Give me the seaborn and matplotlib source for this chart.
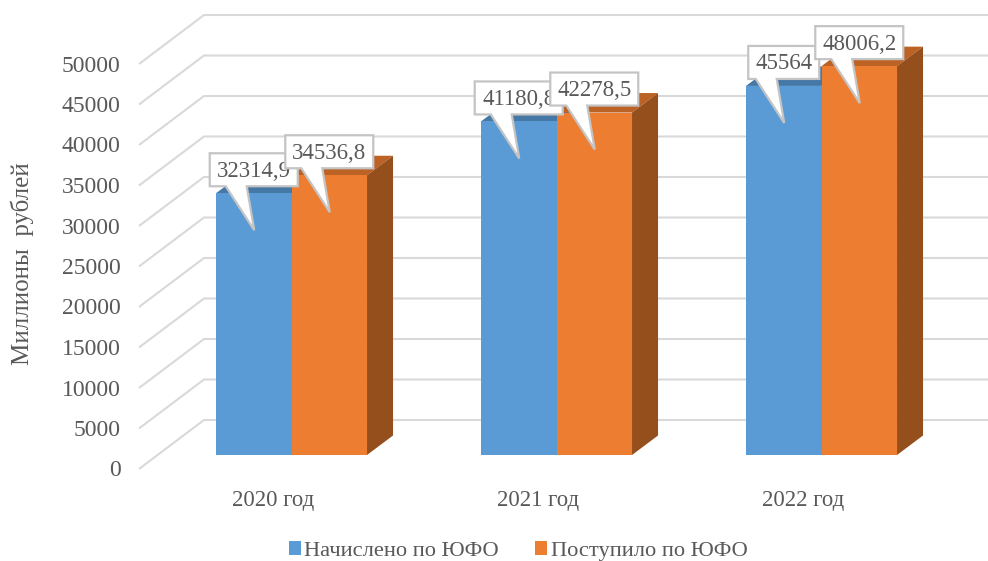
import pandas as pd
import matplotlib.pyplot as plt
import seaborn as sb
from matplotlib.patches import Polygon
from matplotlib.transforms import ScaledTranslation

years = ['2020 год', '2021 год', '2022 год']
series_names = ['Начислено по ЮФО', 'Поступило по ЮФО']
accrued = [32314.9, 41180.8, 45564]
received = [34536.8, 42278.5, 48006.2]
y_ticks = [0, 5000, 10000, 15000, 20000, 25000, 30000, 35000, 40000, 45000, 50000]

front_colors = ['#5b9bd5', '#ed7d31']
top_colors = ['#4678a6', '#bb6224']
side_colors = ['#41719c', '#954f1c']
grid_color = '#d9d9d9'
text_color = '#595959'

sb.set_theme(style='white')
plt.rcParams['font.family'] = ['Liberation Serif', 'DejaVu Sans']

df = pd.DataFrame({
    'year': years * 2,
    'series': [series_names[0]] * 3 + [series_names[1]] * 3,
    'value': accrued + received,
})

W, H = 988, 561
PX_CAT = 1 / 265          # one pixel in category units
PX_VAL = 1 / 0.0081       # one pixel in value units
BASE_Y = 455              # pixel row of value 0 on the bar fronts
CAT0_X = 291.5            # pixel column of the first category
AX_L, AX_B = 122, 490

fig = plt.figure(figsize=(W / 100, H / 100), dpi=100)
ax = fig.add_axes([AX_L / W, 1 - AX_B / H, (W - AX_L) / W, AX_B / H])

sb.barplot(data=df, x='year', y='value', hue='series', palette=front_colors,
           width=0.57, gap=0, saturation=1, ax=ax, errorbar=None, linewidth=0)

ax.set_xlim((AX_L - CAT0_X) * PX_CAT, (W - CAT0_X) * PX_CAT)
ax.set_ylim((BASE_Y - AX_B) * PX_VAL, BASE_Y * PX_VAL)
sb.despine(ax=ax, left=True, bottom=True)


# back wall and side wall lines
def wall_lines():
    for v in y_ticks:
        xs = [(139 - CAT0_X) * PX_CAT, (204 - CAT0_X) * PX_CAT, (W - CAT0_X) * PX_CAT]
        ys = [v - 14 * PX_VAL, v + 35 * PX_VAL, v + 35 * PX_VAL]
        ax.plot(xs, ys, color=grid_color, lw=1.5, zorder=0.3, clip_on=False,
                solid_capstyle='butt', solid_joinstyle='miter')


# tops and sides of the bars
def bar_depth():
    ddx, ddy = 26 * PX_CAT, 19.5 * PX_VAL
    for s, cont in enumerate(ax.containers):
        for bar in cont:
            x0, x1 = bar.get_x(), bar.get_x() + bar.get_width()
            h = bar.get_height()
            ax.add_patch(Polygon([(x0, h), (x1, h), (x1 + ddx, h + ddy), (x0 + ddx, h + ddy)],
                                 fc=top_colors[s], ec='none', zorder=0.8 + s * 0.05))
            ax.add_patch(Polygon([(x1, 0), (x1 + ddx, ddy), (x1 + ddx, h + ddy), (x1, h)],
                                 fc=side_colors[s], ec='none', zorder=0.8 + s * 0.05))


def callout(bar, value, z):
    cx = bar.get_x() + bar.get_width() / 2
    tip = bar.get_height() - 37 * PX_VAL
    label = f'{value:g}'.replace('.', ',')
    half = 44 if ',' in label else 35.5

    def pt(dx, dy):
        return cx + dx * PX_CAT, tip + dy * PX_VAL

    pts = [pt(0.5, 0), pt(-7, 44), pt(half, 44), pt(half, 77), pt(-half, 77),
           pt(-half, 44), pt(-28, 44)]
    ax.add_patch(Polygon(pts, fc='white', ec='#c4c4c4', lw=1.6, zorder=z,
                         joinstyle='miter', clip_on=False))
    tx, ty = pt(0, 59)
    ax.text(tx, ty, label, ha='center', va='center', fontsize=16.5,
            color=text_color, zorder=z + 0.1)


wall_lines()
bar_depth()
for s, (cont, vals) in enumerate(zip(ax.containers, [accrued, received])):
    for i, (bar, val) in enumerate(zip(cont, vals)):
        callout(bar, val, 5 + s)

ax.set_yticks(y_ticks)
ax.set_yticklabels([str(t) for t in y_ticks])
ax.tick_params(axis='y', length=0, pad=1, labelsize=17, labelcolor=text_color)
ax.tick_params(axis='x', length=0, pad=0, labelsize=16.4, labelcolor=text_color)

# labels sit on the front edge of the floor, not at the bar fronts
shift_y = ScaledTranslation(0, -13.5 / 100, fig.dpi_scale_trans)
for lab in ax.get_yticklabels():
    lab.set_transform(lab.get_transform() + shift_y)
shift_x = ScaledTranslation(-18.5 / 100, 0, fig.dpi_scale_trans)
for lab in ax.get_xticklabels():
    lab.set_transform(lab.get_transform() + shift_x)

ax.set_xlabel('')
ax.set_ylabel('')
fig.text(22 / W, 1 - 263.5 / H, 'Миллионы  рублей', rotation=90, ha='center', va='center',
         fontsize=18, color=text_color)

handles, labels = ax.get_legend_handles_labels()
ax.legend_.remove()
fig.legend(handles, labels, loc='center', bbox_to_anchor=(518 / W, 1 - 551 / H), ncol=2,
           frameon=False, fontsize=16.2, labelcolor=text_color, handlelength=0.55,
           handleheight=0.6, handletextpad=0.15, columnspacing=1.6)

fig.savefig('out.png', dpi=100)
